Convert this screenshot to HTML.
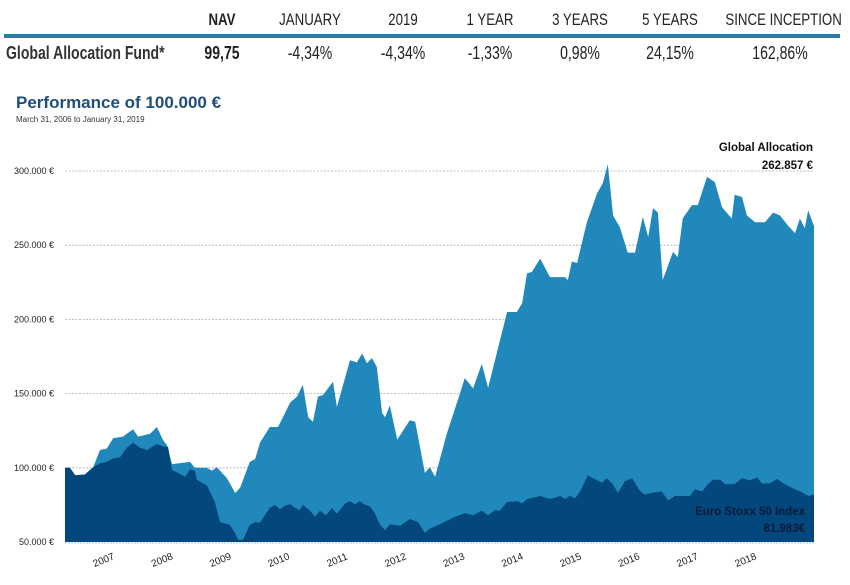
<!DOCTYPE html>
<html><head><meta charset="utf-8"><style>
html,body{margin:0;padding:0;background:#fff;}
body{width:850px;height:585px;position:relative;overflow:hidden;font-family:"Liberation Sans",sans-serif;}
.h{position:absolute;top:10px;font-size:17px;color:#222;transform:scaleX(0.78);transform-origin:center;white-space:nowrap;}
.r{position:absolute;top:43px;font-size:18px;color:#222;transform:scaleX(0.78);transform-origin:center;white-space:nowrap;}
</style></head><body>
<div>
<div class="h" style="left:200px;width:44px;text-align:center;font-weight:bold">NAV</div>
<div class="h" style="left:270px;width:80px;text-align:center">JANUARY</div>
<div class="h" style="left:378px;width:50px;text-align:center">2019</div>
<div class="h" style="left:455px;width:70px;text-align:center">1 YEAR</div>
<div class="h" style="left:540px;width:80px;text-align:center">3 YEARS</div>
<div class="h" style="left:630px;width:80px;text-align:center">5 YEARS</div>
<div class="h" style="left:710px;width:140px;text-align:center">SINCE INCEPTION</div>
<div style="position:absolute;left:4px;top:34px;width:836px;height:4px;background:#2b7ca6"></div>
<div class="r" style="left:-16px;width:200px;text-align:center;font-weight:bold;color:#333">Global Allocation Fund*</div>
<div class="r" style="left:195px;width:54px;text-align:center;font-weight:bold">99,75</div>
<div class="r" style="left:275px;width:70px;text-align:center">-4,34%</div>
<div class="r" style="left:368px;width:70px;text-align:center">-4,34%</div>
<div class="r" style="left:455px;width:70px;text-align:center">-1,33%</div>
<div class="r" style="left:545px;width:70px;text-align:center">0,98%</div>
<div class="r" style="left:635px;width:70px;text-align:center">24,15%</div>
<div class="r" style="left:740px;width:80px;text-align:center">162,86%</div>
</div>
<div style="position:absolute;left:16px;top:93px;font-size:17px;font-weight:bold;color:#1f4e79">Performance of 100.000 €</div>
<div style="position:absolute;left:16px;top:115px;font-size:8px;color:#333">March 31, 2006 to January 31, 2019</div>
<svg id="chart" width="850" height="585" style="position:absolute;left:0;top:0"></svg>
<script>
const gaMonths=[0,1,2.1,4.1,5.8,7.2,8.6,9.9,11.9,14,15,17.5,18.9,20.1,21,22,25.7,26.7,29.2,30.2,31.2,33.3,35,36,38,39.1,40.1,42.1,43.8,46.3,47.7,48.9,50,51,52,53,55.1,55.9,58.6,60,61.1,62.1,63.1,64.1,65.2,65.8,66.8,68.3,70.9,72,74,75,76.1,78.5,81.2,82.2,83.9,85.7,87,90.9,92.9,94,95,96,97.7,99.7,102.8,103.4,104.2,105.3,107.3,109.4,110.6,111.6,112.7,114.1,115.7,117.2,118.8,119.9,120.9,121.9,122.9,125,126,127,128.9,130.1,132,133.6,135.1,137.1,137.7,139.2,140.2,141.9,143.9,145.6,147,148.6,150.1,151.1,152.1,152.8,154];
const gaValues=[100,100,95,95.5,100.5,112,113,120,121,126,121,123,127.5,119,115,102.5,104,100,100,98,100.5,93,83,86.5,104,106,117,127.5,127.5,144,148,156,134,131,148,149,158,141,172.5,171,177,170.5,174,168,137,134,142,119,132,131,96.5,100.5,94,123,150,160.5,153.5,170,154,205,205,211,231,232,241,228.5,228.5,226.5,239,238,265.5,285,292,304.5,270,262,245,245,269,255.5,275,272,226.5,245.5,242,268,277,277,296,292.5,275.5,268,284,282.5,270,265.5,265.5,272,270,263.5,258,268,261.5,273.5,262.9];
const esMonths=[0,1,2.1,4.1,5.8,7.2,8.6,9.9,11.3,12.7,14,15.4,16.9,18.1,18.9,20.1,21.2,22,23.6,24.7,25.7,26.7,27.1,29.2,30.8,31.9,33.9,35,35.6,36.6,38,39.1,40.1,41.1,42.1,43.2,44.2,45.2,46.3,47.3,48.3,48.9,50.4,51.4,52.4,53.7,54.9,55.9,57.6,58.6,59.6,60.6,61.7,62.7,63.7,64.8,65.8,66.8,68.9,70.9,72.6,74,75,77.1,80.2,82.2,83.9,85.7,87,88.4,89.4,90.9,93.1,94,95,97.7,99.7,101.8,102.8,103.8,104.9,105.9,107.5,108.6,110.4,111.4,112.5,113.7,115.1,116.6,118.2,119.2,121.3,122.7,124,125.4,128.5,129.5,131,132.2,133.2,134.7,135.7,137.7,139.2,140.8,142.3,143.3,144.9,146.4,148,150.1,151.5,152.8,154];
const esValues=[100,100,95,95.5,100.5,103,104,106.5,107,113.5,117,113.5,112,114.5,116,114.5,114,98.5,96,94,99,98,92,88,77,63.5,61.5,56,51.5,51.5,61.5,63.5,63,68,73,75,72,74.5,75.5,73,71.5,75,71,67,71,68,73,69,76,77.5,75.5,77.5,75,74,69.5,61.5,58,62,61,65.5,63.5,56,59,62,67,69.5,68,71,68,71.5,71,77,77.5,76,79,81,79,81,79,81,79.5,84,95,93,90,93,89.5,83,91,93,84.5,82,83.5,84,78,81,81,85.5,84,89,92,92,89,89,93,91.5,93.5,89.5,89.5,92.5,89,85.5,83.5,81,82];
const yTicks=[50,100,150,200,250,300];
const yTickLabels=["50.000 €","100.000 €","150.000 €","200.000 €","250.000 €","300.000 €"];
const yearLabels=["2007","2008","2009","2010","2011","2012","2013","2014","2015","2016","2017","2018"];
const yearMonths=[8.2,20.2,32.2,44.2,56.2,68.2,80.2,92.2,104.2,116.2,128.2,140.2];

const NS="http://www.w3.org/2000/svg";
const svg=document.getElementById('chart');
const x=m=>65+m*(814-65)/154;
const y=v=>542-(v-50)*(542-171)/250;
function mk(t,a){const e=document.createElementNS(NS,t);for(const k in a)e.setAttribute(k,a[k]);svg.appendChild(e);return e;}
yTicks.forEach((t,i)=>{
  if(i>0){const g=mk('line',{x1:65,x2:814,y1:y(t),y2:y(t),stroke:'#aaa','stroke-width':0.8,'stroke-dasharray':'2,1.5'});
  
  }
  const l=mk('text',{x:54,y:y(t)+3,'text-anchor':'end','font-size':9,fill:'#222','font-family':'Liberation Sans, sans-serif'});
  l.textContent=yTickLabels[i];
  
  
});
function area(ms,vs,fill,name){
  let d='M'+x(ms[0])+','+y(50);
  ms.forEach((m,i)=>{d+=' L'+x(m).toFixed(1)+','+y(vs[i]).toFixed(1);});
  d+=' L'+x(ms[ms.length-1])+','+y(50)+' Z';
  const p=mk('path',{d:d,fill:fill});
  
  
}
area(gaMonths,gaValues,'#2188bb','global-allocation-area');
area(esMonths,esValues,'#04477d','euro-stoxx-area');
const ax=mk('line',{x1:65,x2:814,y1:543,y2:543,stroke:'#b8cfe0','stroke-width':1.2,'stroke-dasharray':'2,1'});


yearLabels.forEach((l,i)=>{
  const cx=x(yearMonths[i]), cy=563;
  const t=mk('text',{x:cx,y:cy,'text-anchor':'middle','font-size':10,fill:'#222','font-family':'Liberation Sans, sans-serif',transform:`rotate(-22 ${cx} ${cy})`});
  t.textContent=l;
  
  
});
function lbl(txt,xx,yy,col,name){const t=mk('text',{x:xx,y:yy,'text-anchor':'end','font-size':11.5,'font-weight':'bold',fill:col,'font-family':'Liberation Sans, sans-serif'});t.textContent=txt;

}
lbl('Global Allocation',813,151,'#111','ga-label');
lbl('262.857 €',813,169,'#111','ga-value-label');
lbl('Euro Stoxx 50 Index',805,515,'#0a1a3a','es-label');
lbl('81.983€',805,532,'#0a1a3a','es-value-label');
</script>
</body></html>
